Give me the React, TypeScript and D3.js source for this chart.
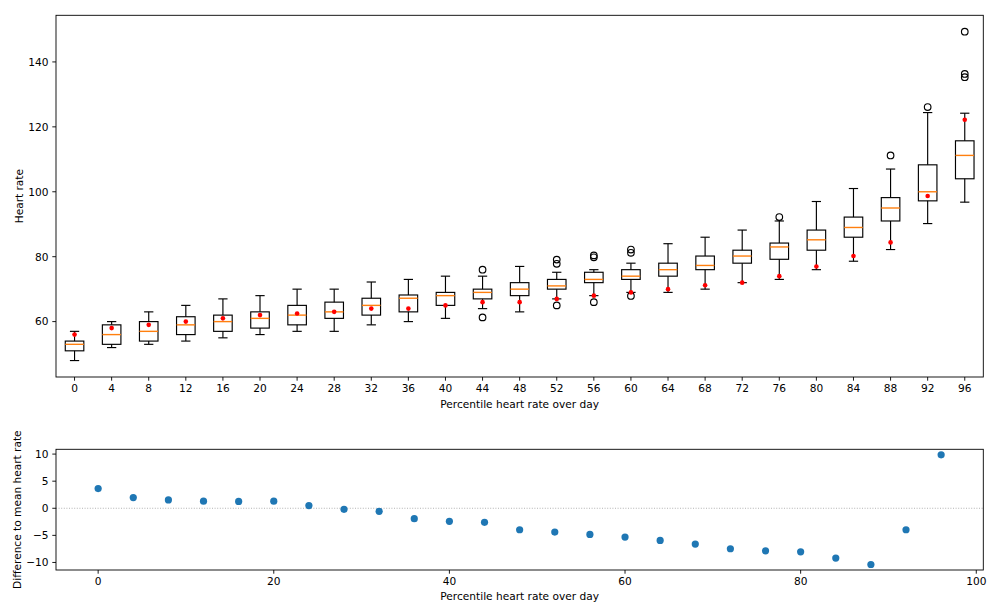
import React from "react";
import * as d3 from "d3";

const labels = [0, 4, 8, 12, 16, 20, 24, 28, 32, 36, 40, 44, 48, 52, 56, 60, 64, 68, 72, 76, 80, 84, 88, 92, 96];
const whiskerLow = [48, 52, 53, 54, 55, 56, 57, 57, 59, 60, 61, 64, 63, 67, 68, 69, 69, 70, 72, 73, 76, 78.6, 82.2, 90.2, 96.8];
const q1 = [51, 53, 54, 56, 57, 58, 59, 61, 62, 63, 65, 67, 68, 70, 72, 73, 74, 76, 78, 79.2, 82, 86, 91, 97.2, 104];
const median = [53, 56, 57, 59, 60, 61, 62, 63, 65, 67.2, 68, 69, 70, 71, 73, 74, 76, 77.3, 80.2, 83, 85.2, 89, 95, 100, 111.2];
const q3 = [54, 59, 60, 61.5, 62, 63, 65, 66, 67.2, 68.2, 69, 70, 72, 73, 75.2, 76, 78, 80.2, 82, 84.2, 88.2, 92.2, 98.2, 108.3, 115.7];
const whiskerHigh = [57, 60, 63, 65, 67, 68, 70, 70, 72.2, 73, 74, 74, 77, 75.2, 76, 78, 84, 86, 88.2, 91, 97, 101, 107, 124.4, 124.2];
const means = [56, 58, 59, 60, 61, 62, 62.5, 63, 64, 64, 65, 66, 66, 67, 68, 69, 70, 71.2, 72, 74, 77, 80.2, 84.4, 98.7, 122.2];
const outliers = [[], [], [], [], [], [], [], [], [], [], [], [76, 61.3], [], [79.1, 77.8, 65], [80.4, 79.8, 66], [82.2, 81.2, 67.9], [], [], [], [92.2], [], [], [111.2], [126.1], [149.3, 136.3, 135.3]];

const diffX = [0, 4, 8, 12, 16, 20, 24, 28, 32, 36, 40, 44, 48, 52, 56, 60, 64, 68, 72, 76, 80, 84, 88, 92, 96];
const diffY = [3.63, 1.97, 1.54, 1.3, 1.27, 1.3, 0.49, -0.19, -0.56, -1.92, -2.41, -2.6, -3.96, -4.39, -4.82, -5.31, -5.93, -6.61, -7.47, -7.85, -8.03, -9.2, -10.38, -3.96, 9.87];

const topYTicks = [60, 80, 100, 120, 140];
const botYTicks = [-10, -5, 0, 5, 10];
const botXTicks = [0, 20, 40, 60, 80, 100];

const FONT = "DejaVu Sans";
const FS = 10.6;
const TL = 3.7;
const fmt = (v: number) => String(v).replace("-", "\u2212");

function pad(ext: [number, number]): [number, number] {
  const m = (ext[1] - ext[0]) * 0.05;
  return [ext[0] - m, ext[1] + m];
}

export default function App() {
  const L = 56, R = 983.3;
  const T1 = 15.3, B1 = 377;
  const T2 = 449.3, B2 = 570;

  const allTop = [...whiskerLow, ...whiskerHigh, ...means, ...outliers.flat()];
  const x1 = d3.scaleLinear().domain([0.5, labels.length + 0.5]).range([L, R]);
  const y1 = d3.scaleLinear().domain(pad(d3.extent(allTop) as [number, number])).range([B1, T1]);

  const x2 = d3.scaleLinear().domain(pad(d3.extent(diffX) as [number, number])).range([L, R]);
  const y2 = d3.scaleLinear().domain(pad(d3.extent(diffY) as [number, number])).range([B2, T2]);

  const bw = x1(1.25) - x1(1);
  const cw = x1(1.125) - x1(1);
  const LW = 1.15;

  return (
    <svg width={999} height={615} style={{ position: "absolute", left: 0, top: 0, background: "#fff" }} fontFamily={FONT} fontSize={FS}>
      <rect x={0} y={0} width={999} height={615} fill="#fff" />
      {/* Top chart */}
      <g>
        {labels.map((lab, i) => {
          const cx = x1(i + 1);
          return (
            <g key={i}>
              <line x1={cx} x2={cx} y1={y1(q3[i])} y2={y1(whiskerHigh[i])} stroke="#000" strokeWidth={LW} />
              <line x1={cx} x2={cx} y1={y1(q1[i])} y2={y1(whiskerLow[i])} stroke="#000" strokeWidth={LW} />
              <line x1={cx - cw} x2={cx + cw} y1={y1(whiskerHigh[i])} y2={y1(whiskerHigh[i])} stroke="#000" strokeWidth={LW} />
              <line x1={cx - cw} x2={cx + cw} y1={y1(whiskerLow[i])} y2={y1(whiskerLow[i])} stroke="#000" strokeWidth={LW} />
              <rect x={cx - bw} y={y1(q3[i])} width={2 * bw} height={y1(q1[i]) - y1(q3[i])} fill="none" stroke="#000" strokeWidth={LW} />
              <line x1={cx - bw} x2={cx + bw} y1={y1(median[i])} y2={y1(median[i])} stroke="#ff7f0e" strokeWidth={1.4} />
              {outliers[i].map((o, j) => (
                <circle key={j} cx={cx} cy={y1(o)} r={3.3} fill="none" stroke="#000" strokeWidth={LW} />
              ))}
              <circle cx={cx} cy={y1(means[i])} r={2.3} fill="#ff0000" />
            </g>
          );
        })}
        <rect x={L} y={T1} width={R - L} height={B1 - T1} fill="none" stroke="#000" strokeWidth={0.9} />
        {labels.map((lab, i) => (
          <g key={i}>
            <line x1={x1(i + 1)} x2={x1(i + 1)} y1={B1} y2={B1 + TL} stroke="#000" strokeWidth={0.9} />
            <text x={x1(i + 1)} y={B1 + TL + 3.7 + 7.8} textAnchor="middle">{fmt(lab)}</text>
          </g>
        ))}
        {topYTicks.map((t) => (
          <g key={t}>
            <line x1={L - TL} x2={L} y1={y1(t)} y2={y1(t)} stroke="#000" strokeWidth={0.9} />
            <text x={L - TL - 3.7} y={y1(t)} dy="0.365em" textAnchor="end">{fmt(t)}</text>
          </g>
        ))}
        <text x={(L + R) / 2} y={408} textAnchor="middle">Percentile heart rate over day</text>
        <text transform={`translate(22.5,${(T1 + B1) / 2}) rotate(-90)`} textAnchor="middle">Heart rate</text>
      </g>

      {/* Bottom chart */}
      <g>
        <line x1={L} x2={R} y1={y2(0)} y2={y2(0)} stroke="#a0a0a0" strokeWidth={0.8} strokeDasharray="1,1.6" />
        {diffX.map((xv, i) => (
          <circle key={i} cx={x2(xv)} cy={y2(diffY[i])} r={3.6} fill="#1f77b4" />
        ))}
        <rect x={L} y={T2} width={R - L} height={B2 - T2} fill="none" stroke="#000" strokeWidth={0.9} />
        {botXTicks.map((t) => (
          <g key={t}>
            <line x1={x2(t)} x2={x2(t)} y1={B2} y2={B2 + TL} stroke="#000" strokeWidth={0.9} />
            <text x={x2(t)} y={B2 + TL + 3.7 + 7.8} textAnchor="middle">{fmt(t)}</text>
          </g>
        ))}
        {botYTicks.map((t) => (
          <g key={t}>
            <line x1={L - TL} x2={L} y1={y2(t)} y2={y2(t)} stroke="#000" strokeWidth={0.9} />
            <text x={L - TL - 3.7} y={y2(t)} dy="0.365em" textAnchor="end">{fmt(t)}</text>
          </g>
        ))}
        <text x={(L + R) / 2} y={600} textAnchor="middle">Percentile heart rate over day</text>
        <text transform={`translate(20.5,${(T2 + B2) / 2}) rotate(-90)`} textAnchor="middle">Difference to mean heart rate</text>
      </g>
    </svg>
  );
}
